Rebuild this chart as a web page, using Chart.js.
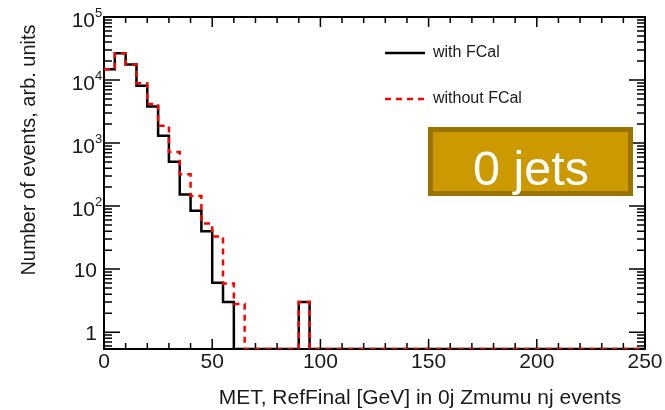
<!DOCTYPE html>
<html lang="en">
<head>
<meta charset="UTF-8">
<title>MET, RefFinal in 0j Zmumu events</title>
<script src="https://cdn.jsdelivr.net/npm/chart.js"></script>
<style>
  body { margin: 0; background: #fff; }
  canvas { display: block; }
</style>
</head>
<body>
<canvas id="metChart" width="665" height="410"></canvas>
<script>
// histogram: 5 GeV bins from 0 to 250 GeV
const binWidth = 5;
const xMin = 0;
const xMax = 250;
const yMin = 0.54;
const yMax = 100000;

const withFCal = [
  14800, 26500, 17700, 8100, 3800, 1310, 505, 153, 84, 40,
  6.1, 3.0, 0, 0, 0, 0, 0, 0, 3, 0,
  0, 0, 0, 0, 0, 0, 0, 0, 0, 0,
  0, 0, 0, 0, 0, 0, 0, 0, 0, 0,
  0, 0, 0, 0, 0, 0, 0, 0, 0, 0
];
const withoutFCal = [
  14800, 26500, 17700, 8900, 4150, 1880, 720, 320, 144, 53,
  33, 5.9, 2.8, 0, 0, 0, 0, 0, 3, 0,
  0, 0, 0, 0, 0, 0, 0, 0, 0, 0,
  0, 0, 0, 0, 0, 0, 0, 0, 0, 0,
  0, 0, 0, 0, 0, 0, 0, 0, 0, 0
];

const yTickValues = [1, 10, 100, 1000, 10000, 100000];
const yTickBase = ['1', '10', '10', '10', '10', '10'];
const yTickExp = ['', '', '2', '3', '4', '5'];
const xTitle = 'MET, RefFinal [GeV] in 0j Zmumu nj events';
const yTitle = 'Number of events, arb. units';
const boxText = '0 jets';

const FONT = "'Liberation Sans', Arial, Helvetica, sans-serif";
const TEXT = '#1a1a1a';

// empty bins sit on the bottom of the frame, like ROOT draws them
function histPoints(contents) {
  const pts = contents.map((v, i) => ({ x: xMin + i * binWidth, y: v > 0 ? v : yMin }));
  pts.push({ x: xMax, y: pts[pts.length - 1].y });
  return pts;
}

const frameDecor = {
  id: 'frameDecor',
  beforeDatasetsDraw(chart) {
    const { ctx, chartArea: a, scales: { x, y } } = chart;
    ctx.save();
    ctx.strokeStyle = '#000';
    ctx.lineWidth = 1.5;
    ctx.beginPath();
    for (let v = xMin; v <= xMax; v += 10) {
      const px = x.getPixelForValue(v);
      const len = v % 50 === 0 ? 10 : 6;
      ctx.moveTo(px, a.bottom); ctx.lineTo(px, a.bottom - len);
      ctx.moveTo(px, a.top); ctx.lineTo(px, a.top + len);
    }
    for (let d = -1; d < 5; d++) {
      for (let m = 1; m < 10; m++) {
        const v = m * Math.pow(10, d);
        if (v < yMin || v > yMax) continue;
        const py = y.getPixelForValue(v);
        const len = m === 1 ? 16 : 8;
        ctx.moveTo(a.left, py); ctx.lineTo(a.left + len, py);
        ctx.moveTo(a.right, py); ctx.lineTo(a.right - len, py);
      }
    }
    ctx.stroke();
    ctx.lineWidth = 2;
    ctx.strokeRect(a.left, a.top, a.width, a.height);
    ctx.restore();
  },
  afterDraw(chart) {
    const { ctx, scales: { y } } = chart;
    ctx.save();
    ctx.fillStyle = TEXT;

    // y tick labels with real superscripts
    yTickValues.forEach((v, i) => {
      const py = y.getPixelForValue(v);
      ctx.textBaseline = 'alphabetic';
      if (yTickExp[i]) {
        ctx.font = '13px ' + FONT;
        ctx.textAlign = 'left';
        ctx.fillText(yTickExp[i], 95, py);
        ctx.font = '21px ' + FONT;
        ctx.textAlign = 'right';
        ctx.fillText(yTickBase[i], 95, py + 10);
      } else {
        ctx.font = '21px ' + FONT;
        ctx.textAlign = 'right';
        ctx.fillText(yTickBase[i], 97, py + 8);
      }
    });

    // axis titles
    ctx.font = '21px ' + FONT;
    ctx.textAlign = 'center';
    ctx.textBaseline = 'alphabetic';
    ctx.fillText(xTitle, 420, 404);

    ctx.save();
    ctx.translate(35, 150);
    ctx.rotate(-Math.PI / 2);
    ctx.font = '20px ' + FONT;
    ctx.fillText(yTitle, 0, 0);
    ctx.restore();

    // legend
    ctx.font = '16px ' + FONT;
    ctx.textAlign = 'left';
    ctx.textBaseline = 'middle';
    const rows = [53, 99];
    chart.data.datasets.slice().reverse().forEach((ds, i) => {
      ctx.strokeStyle = ds.borderColor;
      ctx.lineWidth = ds.borderWidth;
      ctx.setLineDash(ds.borderDash || []);
      ctx.beginPath();
      ctx.moveTo(385, rows[i]); ctx.lineTo(425, rows[i]);
      ctx.stroke();
      ctx.setLineDash([]);
      ctx.fillText(ds.label, 433, rows[i]);
    });

    // "0 jets" box
    ctx.fillStyle = '#cc9900';
    ctx.fillRect(428, 127, 205, 69);
    ctx.strokeStyle = '#9a7400';
    ctx.lineWidth = 5;
    ctx.strokeRect(430.5, 129.5, 200, 64);
    ctx.fillStyle = '#ffffff';
    ctx.font = '49px ' + FONT;
    ctx.textAlign = 'center';
    ctx.textBaseline = 'alphabetic';
    ctx.fillText(boxText, 531, 185, 116);
    ctx.restore();
  }
};

new Chart(document.getElementById('metChart'), {
  type: 'line',
  data: {
    datasets: [{
      label: 'without FCal',
      data: histPoints(withoutFCal),
      borderColor: '#ff0000',
      borderWidth: 2.5,
      borderDash: [6, 5],
      stepped: 'before',
      pointRadius: 0,
      fill: false
    }, {
      label: 'with FCal',
      data: histPoints(withFCal),
      borderColor: '#000000',
      borderWidth: 2.5,
      stepped: 'before',
      pointRadius: 0,
      fill: false
    }]
  },
  options: {
    responsive: false,
    animation: false,
    layout: { padding: { top: 17, right: 20, left: 0, bottom: 0 } },
    plugins: { legend: { display: false }, tooltip: { enabled: false } },
    scales: {
      x: {
        type: 'linear',
        min: xMin,
        max: xMax,
        afterFit: s => { s.height = 61; },
        grid: { display: false, drawTicks: false },
        border: { display: false },
        ticks: {
          stepSize: 50,
          autoSkip: false,
          maxRotation: 0,
          padding: 1,
          color: TEXT,
          font: { family: FONT, size: 21 }
        }
      },
      y: {
        type: 'logarithmic',
        min: yMin,
        max: yMax,
        afterFit: s => { s.width = 104; },
        afterBuildTicks: s => { s.ticks = yTickValues.map(v => ({ value: v, major: true })); },
        grid: { display: false, drawTicks: false },
        border: { display: false },
        ticks: { display: false }
      }
    }
  },
  plugins: [frameDecor]
});
</script>
</body>
</html>
